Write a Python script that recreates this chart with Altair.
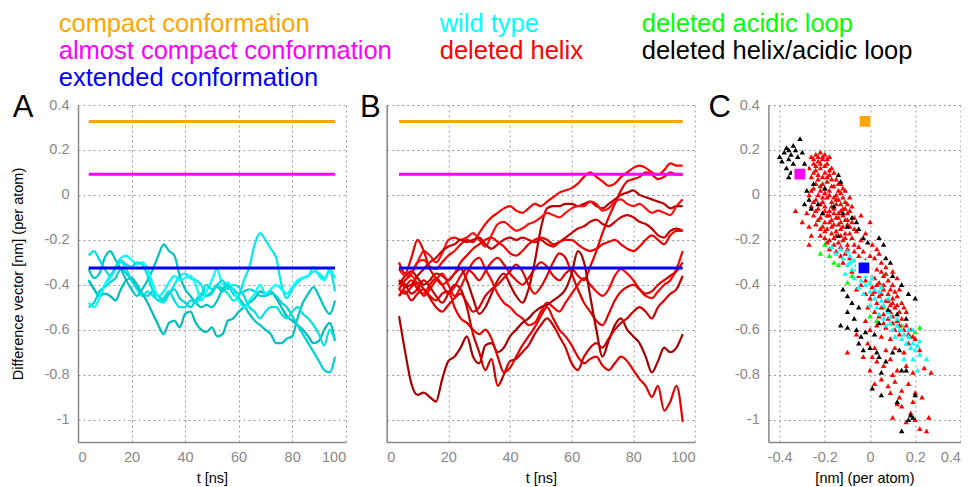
import altair as alt
import pandas as pd

FONT = "Liberation Sans"

# ---------------- data ----------------
T = [4, 6, 8, 10, 12, 14, 16, 18, 20, 22, 24, 26, 28, 30, 32, 34, 36, 38, 40, 42,
     44, 46, 48, 50, 52, 54, 56, 58, 60, 62, 64, 66, 68, 70, 72, 74, 76, 78, 80, 82,
     84, 86, 88, 90, 92, 94, 96]

REF_NAMES = ["compact conformation", "almost compact conformation", "extended conformation"]
REF_VALUES = [0.327, 0.092, -0.325]
REF_COLORS = ["#ffa500", "#ff00ff", "#0000ff"]
REF_T = [4, 96]

# wild type trajectories (panel A)
A_NAMES = ["wt1", "wt2", "wt3", "wt4", "wt5", "wt6"]
A_COLORS = ["#00eaea", "#00c4c4", "#00bcbc", "#00d4d4", "#00ffff", "#00e2e2"]
WT1 = [-0.38, -0.42, -0.45, -0.4, -0.36, -0.33, -0.3, -0.33, -0.38, -0.42, -0.45, -0.43, -0.45, -0.47, -0.48, -0.44,
       -0.4, -0.36, -0.35, -0.37, -0.38, -0.4, -0.45, -0.44, -0.4, -0.42, -0.44, -0.47, -0.45, -0.38, -0.32, -0.22,
       -0.17, -0.2, -0.24, -0.28, -0.4, -0.46, -0.42, -0.39, -0.37, -0.36, -0.34, -0.35, -0.37, -0.34, -0.43]
WT2 = [-0.33, -0.37, -0.35, -0.28, -0.25, -0.29, -0.33, -0.38, -0.42, -0.45, -0.42, -0.38, -0.33, -0.27, -0.22, -0.25,
       -0.27, -0.36, -0.42, -0.45, -0.48, -0.5, -0.49, -0.5, -0.47, -0.42, -0.4, -0.44, -0.46, -0.49, -0.53, -0.56,
       -0.58, -0.6, -0.62, -0.66, -0.66, -0.64, -0.63, -0.55, -0.48, -0.44, -0.41, -0.45, -0.5, -0.53, -0.47]
WT3 = [-0.38, -0.42, -0.45, -0.44, -0.45, -0.47, -0.42, -0.38, -0.37, -0.4, -0.44, -0.48, -0.53, -0.58, -0.62, -0.57,
       -0.56, -0.59, -0.53, -0.52, -0.57, -0.6, -0.61, -0.59, -0.63, -0.62, -0.56, -0.55, -0.52, -0.5, -0.48, -0.46,
       -0.43, -0.44, -0.43, -0.46, -0.5, -0.54, -0.56, -0.58, -0.6, -0.63, -0.66, -0.65, -0.6, -0.57, -0.65]
WT4 = [-0.5, -0.48, -0.43, -0.41, -0.39, -0.37, -0.33, -0.35, -0.38, -0.41, -0.44, -0.45, -0.43, -0.45, -0.47, -0.44,
       -0.42, -0.46, -0.48, -0.5, -0.47, -0.44, -0.45, -0.43, -0.41, -0.43, -0.41, -0.42, -0.44, -0.43, -0.42, -0.43,
       -0.45, -0.45, -0.44, -0.45, -0.48, -0.5, -0.54, -0.58, -0.62, -0.66, -0.7, -0.74, -0.78, -0.79, -0.72]
WT5 = [-0.48, -0.5, -0.46, -0.4, -0.37, -0.33, -0.28, -0.27, -0.29, -0.31, -0.3, -0.33, -0.4, -0.45, -0.43, -0.39,
       -0.36, -0.38, -0.37, -0.36, -0.4, -0.47, -0.43, -0.38, -0.33, -0.4, -0.39, -0.43, -0.47, -0.5, -0.47, -0.44,
       -0.4, -0.44, -0.42, -0.4, -0.42, -0.44, -0.41, -0.38, -0.37, -0.36, -0.32, -0.36, -0.38, -0.33, -0.37]
WT6 = [-0.27, -0.25, -0.29, -0.33, -0.36, -0.32, -0.29, -0.31, -0.32, -0.3, -0.31, -0.36, -0.43, -0.47, -0.46, -0.43,
       -0.47, -0.5, -0.5, -0.47, -0.48, -0.45, -0.4, -0.42, -0.4, -0.38, -0.42, -0.4, -0.41, -0.45, -0.5, -0.52,
       -0.55, -0.52, -0.5, -0.5, -0.53, -0.55, -0.52, -0.5, -0.53, -0.55, -0.58, -0.62, -0.67, -0.6, -0.65]
A_SERIES = [WT1, WT2, WT3, WT4, WT5, WT6]

# deleted helix trajectories (panel B)
B_NAMES = ["dh1", "dh2", "dh3", "dh4", "dh5", "dh6", "dh7", "dh8", "dh9", "dh10", "dh11"]
B_COLORS = ["#ff0000", "#e80000", "#b40000", "#ff1010", "#c80000", "#f00000",
            "#ff0000", "#e00000", "#a80000", "#e60000", "#d00000"]
DH1 = [-0.42, -0.38, -0.35, -0.3, -0.29, -0.32, -0.33, -0.3, -0.27, -0.25, -0.22, -0.2, -0.21, -0.17, -0.13, -0.1,
       -0.08, -0.06, -0.05, -0.07, -0.08, -0.06, -0.04, -0.05, -0.03, -0.01, 0.01, 0.02, 0.03, 0.05, 0.08, 0.1,
       0.08, 0.06, 0.04, 0.05, 0.08, 0.1, 0.12, 0.13, 0.12, 0.1, 0.09, 0.11, 0.14, 0.13, 0.13]
DH2 = [-0.45, -0.41, -0.38, -0.42, -0.44, -0.4, -0.37, -0.4, -0.44, -0.41, -0.36, -0.33, -0.35, -0.38, -0.34, -0.3,
       -0.28, -0.31, -0.35, -0.38, -0.4, -0.37, -0.33, -0.3, -0.32, -0.36, -0.38, -0.35, -0.33, -0.36, -0.38, -0.32,
       -0.25, -0.17, -0.1, -0.04, 0.02, 0.06, 0.07, 0.08, 0.1, 0.09, 0.07, 0.08, 0.1, 0.09, 0.09]
DH3 = [-0.4, -0.36, -0.34, -0.37, -0.4, -0.38, -0.35, -0.36, -0.38, -0.35, -0.33, -0.38, -0.46, -0.53, -0.5, -0.44,
       -0.38, -0.35, -0.4, -0.45, -0.48, -0.42, -0.3, -0.15, -0.06, -0.05, -0.05, -0.04, -0.04, -0.05, -0.04, -0.03,
       -0.05, -0.06, -0.04, -0.02, 0.0, 0.01, 0.02, 0.0, -0.01, -0.02, -0.03, -0.04, -0.06, -0.05, -0.05]
DH4 = [-0.33, -0.36, -0.35, -0.3, -0.25, -0.27, -0.3, -0.26, -0.2, -0.19, -0.2, -0.19, -0.17, -0.2, -0.23, -0.18,
       -0.13, -0.12, -0.14, -0.16, -0.15, -0.13, -0.12, -0.1, -0.08, -0.09, -0.1, -0.08, -0.06, -0.05, -0.05, -0.03,
       -0.04, -0.07, -0.06, -0.03, -0.02, -0.04, -0.05, -0.04, -0.06, -0.08, -0.07, -0.08, -0.09, -0.05, -0.02]
DH5 = [-0.38, -0.41, -0.4, -0.36, -0.33, -0.3, -0.28, -0.25, -0.23, -0.22, -0.2, -0.21, -0.2, -0.19, -0.22, -0.24,
       -0.22, -0.2, -0.19, -0.2, -0.19, -0.2, -0.21, -0.2, -0.22, -0.23, -0.21, -0.19, -0.17, -0.15, -0.14, -0.12,
       -0.11, -0.13, -0.14, -0.12, -0.1, -0.09, -0.1, -0.12, -0.13, -0.15, -0.18, -0.19, -0.16, -0.15, -0.16]
DH6 = [-0.3, -0.35, -0.28, -0.2, -0.25, -0.33, -0.37, -0.4, -0.38, -0.35, -0.3, -0.27, -0.24, -0.22, -0.2, -0.19,
       -0.21, -0.23, -0.26, -0.27, -0.25, -0.22, -0.2, -0.19, -0.2, -0.22, -0.21, -0.2, -0.2, -0.22, -0.24, -0.25,
       -0.24, -0.22, -0.21, -0.2, -0.22, -0.24, -0.25, -0.23, -0.2, -0.18, -0.2, -0.22, -0.18, -0.16, -0.16]
DH7 = [-0.42, -0.38, -0.36, -0.4, -0.45, -0.42, -0.38, -0.35, -0.4, -0.45, -0.41, -0.35, -0.3, -0.28, -0.33, -0.38,
       -0.44, -0.48, -0.5, -0.53, -0.55, -0.58, -0.57, -0.52, -0.48, -0.5, -0.52, -0.48, -0.44, -0.4, -0.37, -0.4,
       -0.43, -0.45, -0.42, -0.36, -0.33, -0.35, -0.38, -0.42, -0.45, -0.46, -0.43, -0.4, -0.38, -0.33, -0.25]
DH8 = [-0.45, -0.43, -0.47, -0.44, -0.42, -0.46, -0.5, -0.52, -0.49, -0.46, -0.44, -0.48, -0.52, -0.5, -0.45, -0.42,
       -0.4, -0.37, -0.34, -0.31, -0.34, -0.4, -0.44, -0.41, -0.36, -0.3, -0.26, -0.28, -0.35, -0.42, -0.48, -0.52,
       -0.56, -0.58, -0.53, -0.47, -0.43, -0.41, -0.4, -0.42, -0.44, -0.43, -0.4, -0.38, -0.36, -0.34, -0.3]
DH9 = [-0.54, -0.7, -0.84, -0.89, -0.88, -0.9, -0.92, -0.82, -0.74, -0.72, -0.68, -0.63, -0.72, -0.75, -0.67, -0.66,
       -0.7, -0.68, -0.63, -0.6, -0.57, -0.55, -0.52, -0.5, -0.49, -0.47, -0.45, -0.42, -0.35, -0.25, -0.3, -0.45,
       -0.6, -0.72, -0.65, -0.58, -0.55, -0.6, -0.63, -0.66, -0.72, -0.79, -0.74, -0.68, -0.7, -0.68, -0.62]
DH10 = [-0.42, -0.44, -0.41, -0.39, -0.42, -0.45, -0.47, -0.44, -0.43, -0.5, -0.55, -0.57, -0.6, -0.62, -0.6, -0.64,
        -0.72, -0.79, -0.77, -0.72, -0.67, -0.63, -0.59, -0.54, -0.5, -0.55, -0.6, -0.63, -0.67, -0.72, -0.75, -0.73,
        -0.72, -0.76, -0.78, -0.75, -0.72, -0.74, -0.78, -0.82, -0.85, -0.9, -0.85, -0.96, -0.92, -0.85, -1.01]
DH11 = [-0.38, -0.4, -0.44, -0.42, -0.38, -0.41, -0.45, -0.48, -0.44, -0.4, -0.42, -0.5, -0.62, -0.7, -0.78, -0.73,
        -0.85, -0.8, -0.74, -0.73, -0.7, -0.67, -0.62, -0.58, -0.55, -0.58, -0.63, -0.68, -0.75, -0.78, -0.72, -0.68,
        -0.66, -0.68, -0.64, -0.6, -0.57, -0.55, -0.52, -0.5, -0.52, -0.55, -0.5, -0.47, -0.44, -0.42, -0.36]
B_SERIES = [DH1, DH2, DH3, DH4, DH5, DH6, DH7, DH8, DH9, DH10, DH11]

# panel C: projections (x, y)
RED_PTS = [
    (-0.26, 0.17), (-0.24, 0.18), (-0.22, 0.19), (-0.2, 0.18), (-0.18, 0.17), (-0.25, 0.14), (-0.23, 0.15),
    (-0.21, 0.16), (-0.19, 0.14), (-0.17, 0.12), (-0.27, 0.12), (-0.24, 0.11), (-0.22, 0.12), (-0.2, 0.1),
    (-0.18, 0.09), (-0.15, 0.07), (-0.13, 0.05), (-0.26, 0.08), (-0.23, 0.07), (-0.21, 0.05), (-0.19, 0.06),
    (-0.16, 0.04), (-0.25, 0.03), (-0.22, 0.02), (-0.2, 0.01), (-0.18, 0.02), (-0.15, 0.0), (-0.13, 0.01),
    (-0.11, 0.02), (-0.27, 0.0), (-0.24, -0.02), (-0.21, -0.03), (-0.19, -0.01), (-0.17, -0.03), (-0.15, -0.02),
    (-0.13, -0.04), (-0.11, -0.03), (-0.09, -0.01), (-0.26, -0.05), (-0.23, -0.06), (-0.2, -0.05), (-0.18, -0.07),
    (-0.16, -0.06), (-0.14, -0.08), (-0.12, -0.06), (-0.1, -0.08), (-0.08, -0.05), (-0.28, -0.08), (-0.25, -0.09),
    (-0.22, -0.1), (-0.19, -0.09), (-0.17, -0.11), (-0.15, -0.1), (-0.13, -0.12), (-0.11, -0.11), (-0.07, -0.1),
    (-0.33, -0.07), (-0.3, -0.12), (-0.27, -0.14), (-0.24, -0.13), (-0.21, -0.14), (-0.19, -0.15), (-0.17, -0.14),
    (-0.15, -0.16), (-0.13, -0.15), (-0.11, -0.17), (-0.09, -0.14), (-0.06, -0.16), (-0.26, -0.18), (-0.22, -0.18),
    (-0.2, -0.19), (-0.18, -0.2), (-0.16, -0.19), (-0.14, -0.21), (-0.12, -0.2), (-0.1, -0.22), (-0.08, -0.19),
    (-0.04, -0.2), (-0.27, -0.22), (-0.02, -0.17), (0.01, -0.22), (0.03, -0.24), (0.0, -0.12), (-0.04, -0.09),
    (-0.18, -0.24), (-0.15, -0.25), (-0.13, -0.27), (-0.11, -0.26), (-0.09, -0.28), (-0.07, -0.25), (-0.05, -0.27),
    (-0.02, -0.29), (0.02, -0.28), (0.05, -0.3), (-0.12, -0.3), (0.07, -0.32), (0.1, -0.34), (0.04, -0.26),
    (-0.08, -0.34), (-0.05, -0.36), (-0.02, -0.38), (0.0, -0.35), (0.02, -0.37), (0.04, -0.39), (0.06, -0.36),
    (0.08, -0.38), (0.1, -0.4), (-0.04, -0.4), (0.01, -0.41), (0.12, -0.37), (0.13, -0.42), (-0.06, -0.42),
    (-0.02, -0.44), (0.0, -0.46), (0.02, -0.43), (0.04, -0.45), (0.06, -0.42), (0.08, -0.44), (0.1, -0.46),
    (0.12, -0.45), (0.03, -0.48), (0.05, -0.5), (0.07, -0.47), (0.09, -0.49), (0.11, -0.5), (0.14, -0.48),
    (-0.01, -0.5), (0.16, -0.52), (0.02, -0.52), (0.04, -0.54), (0.06, -0.53), (0.08, -0.55), (0.1, -0.54),
    (0.12, -0.56), (0.14, -0.55), (0.16, -0.58), (0.03, -0.58), (0.07, -0.59), (0.11, -0.6), (0.18, -0.6),
    (-0.02, -0.56), (0.0, -0.6), (0.05, -0.63), (0.09, -0.64), (0.13, -0.62), (0.17, -0.66), (0.2, -0.64),
    (-0.01, -0.66), (0.02, -0.68), (0.07, -0.69), (0.11, -0.68), (0.15, -0.7), (-0.06, -0.62), (-0.1, -0.7),
    (0.22, -0.69), (0.01, -0.72), (-0.03, -0.72), (0.03, -0.74), (0.06, -0.76), (0.09, -0.73), (0.12, -0.78),
    (0.16, -0.76), (0.19, -0.79), (0.24, -0.77), (0.0, -0.78), (0.1, -0.8), (0.27, -0.79), (0.05, -0.82),
    (0.08, -0.85), (0.11, -0.83), (0.14, -0.87), (0.17, -0.84), (0.2, -0.88), (0.13, -0.9), (0.09, -0.88),
    (0.23, -0.9), (0.02, -0.84), (0.1, -0.99), (0.14, -0.94), (0.18, -0.97), (0.2, -1.0), (0.22, -1.04),
    (0.25, -1.05), (0.26, -0.99), (0.16, -1.01), (0.12, -0.93), (0.19, -0.92),
    (-0.25, 0.16), (-0.23, 0.17), (-0.21, 0.17), (-0.19, 0.16), (-0.24, 0.13), (-0.22, 0.14), (-0.2, 0.13),
    (-0.18, 0.11), (-0.16, 0.1), (-0.25, 0.1), (-0.23, 0.09), (-0.21, 0.08), (-0.19, 0.08), (-0.17, 0.07),
    (-0.14, 0.05), (-0.24, 0.05), (-0.22, 0.04), (-0.2, 0.03), (-0.17, 0.04), (-0.14, 0.02), (-0.12, 0.03),
    (-0.26, 0.02), (-0.23, 0.0), (-0.21, -0.01), (-0.18, 0.0), (-0.16, -0.01), (-0.14, -0.02), (-0.12, -0.01),
    (-0.1, -0.04), (-0.25, -0.03), (-0.22, -0.04), (-0.2, -0.07), (-0.17, -0.05), (-0.15, -0.04), (-0.13, -0.07),
    (-0.11, -0.06), (-0.09, -0.07), (-0.24, -0.07), (-0.21, -0.08), (-0.18, -0.09), (-0.16, -0.08), (-0.14, -0.1),
    (-0.12, -0.09), (-0.1, -0.11), (-0.08, -0.12), (-0.23, -0.11), (-0.2, -0.12), (-0.18, -0.12), (-0.16, -0.13),
    (-0.14, -0.13), (-0.12, -0.14), (-0.1, -0.13), (-0.07, -0.15), (-0.22, -0.15), (-0.2, -0.16), (-0.17, -0.17),
    (-0.15, -0.18), (-0.13, -0.18), (-0.11, -0.19), (-0.09, -0.17), (-0.19, -0.21), (-0.16, -0.22), (-0.13, -0.23),
    (-0.1, -0.24), (-0.07, -0.22), (-0.05, -0.23), (-0.03, -0.25), (0.0, -0.27), (-0.03, -0.31), (0.0, -0.32),
    (0.03, -0.33), (0.05, -0.34), (0.07, -0.35), (0.03, -0.4), (0.06, -0.4), (0.09, -0.42), (0.11, -0.43),
    (0.01, -0.44), (0.05, -0.44), (0.08, -0.47), (0.1, -0.48), (0.12, -0.49), (0.13, -0.52), (0.15, -0.5),
    (0.09, -0.52), (0.06, -0.57), (0.1, -0.57), (0.13, -0.58), (0.15, -0.6), (0.17, -0.62), (0.19, -0.63),
]
BLACK_PTS = [
    (-0.4, 0.17), (-0.38, 0.19), (-0.36, 0.2), (-0.35, 0.18), (-0.37, 0.21), (-0.34, 0.22), (-0.33, 0.2),
    (-0.32, 0.17), (-0.31, 0.25), (-0.39, 0.15), (-0.36, 0.16), (-0.34, 0.14), (-0.33, 0.12), (-0.35, 0.1),
    (-0.37, 0.12), (-0.3, 0.19), (-0.29, 0.14), (-0.32, 0.07), (-0.36, 0.08), (-0.28, 0.02), (-0.27, -0.02),
    (-0.26, -0.06), (-0.25, 0.05), (-0.29, -0.04), (-0.14, 0.09), (-0.13, 0.06), (-0.2, 0.03), (-0.16, -0.05),
    (-0.12, -0.08), (-0.08, -0.1), (-0.06, -0.12), (-0.05, -0.15), (-0.03, -0.19), (-0.01, -0.21), (0.04, -0.19),
    (0.06, -0.22), (0.09, -0.3), (0.07, -0.28), (-0.1, -0.14), (-0.14, -0.18), (-0.21, -0.08), (-0.23, -0.04),
    (0.1, -0.36), (0.14, -0.4), (0.17, -0.44), (0.2, -0.46), (0.16, -0.55), (0.12, -0.53), (0.08, -0.51),
    (0.04, -0.57), (0.02, -0.62), (-0.1, -0.45), (-0.08, -0.48), (-0.12, -0.42), (-0.1, -0.52), (-0.07, -0.55),
    (-0.05, -0.5), (-0.13, -0.58), (-0.1, -0.59), (-0.06, -0.6), (-0.04, -0.63), (-0.05, -0.66), (-0.03, -0.69),
    (-0.02, -0.61), (0.0, -0.68), (0.03, -0.7), (0.04, -0.72), (0.05, -0.79), (0.07, -0.74), (0.1, -0.7),
    (0.13, -0.69), (0.14, -0.78), (0.16, -0.78), (0.01, -0.86), (0.05, -0.89), (0.12, -0.92), (0.18, -0.98),
    (0.19, -0.99), (0.2, -0.89), (0.14, -1.05), (0.17, -1.0),
]
CYAN_PTS = [
    (-0.17, -0.23), (-0.15, -0.26), (-0.13, -0.24), (-0.12, -0.28), (-0.1, -0.25), (-0.09, -0.3), (-0.07, -0.29),
    (-0.08, -0.33), (-0.06, -0.31), (-0.05, -0.35), (-0.07, -0.37), (-0.04, -0.38), (-0.03, -0.34), (-0.02, -0.4),
    (-0.05, -0.41), (0.0, -0.43), (-0.03, -0.44), (0.02, -0.46), (0.0, -0.49), (0.03, -0.5), (0.05, -0.47),
    (0.04, -0.53), (0.06, -0.55), (0.08, -0.52), (0.07, -0.58), (0.09, -0.57), (0.1, -0.6), (0.12, -0.58),
    (0.11, -0.63), (0.13, -0.6), (0.14, -0.64), (0.15, -0.62), (0.16, -0.66), (0.17, -0.63), (0.18, -0.68),
    (0.19, -0.66), (0.2, -0.69), (0.21, -0.67), (0.22, -0.65), (0.15, -0.73), (0.19, -0.73), (0.25, -0.73),
    (0.21, -0.78), (0.22, -0.71), (-0.11, -0.35), (-0.09, -0.27), (0.01, -0.37), (0.05, -0.41), (0.08, -0.46),
    (-0.01, -0.31), (-0.06, -0.33), (-0.04, -0.32), (-0.02, -0.36), (0.0, -0.39), (0.02, -0.42), (0.04, -0.43),
    (-0.08, -0.29), (-0.1, -0.31), (0.06, -0.49), (0.09, -0.54), (0.12, -0.55), (0.14, -0.6), (0.17, -0.6),
    (0.19, -0.6),
]
GREEN_PTS = [
    (-0.22, -0.26), (-0.2, -0.22), (-0.18, -0.27), (-0.16, -0.3), (-0.14, -0.31), (-0.1, -0.39), (-0.08, -0.36),
    (0.0, -0.54), (0.03, -0.56), (0.1, -0.57), (0.14, -0.58), (0.18, -0.63), (0.22, -0.59), (0.2, -0.61),
    (-0.03, -0.3), (0.06, -0.5),
]
# reference conformations in panel C
REF_PROJ_X = [-0.022, -0.311, -0.027]
REF_PROJ_Y = [0.327, 0.092, -0.325]

GROUP_NAMES = ["wild type", "deleted helix", "deleted acidic loop", "deleted helix/acidic loop"]
GROUP_COLORS = ["#00ffff", "#ff0000", "#00ff00", "#000000"]

Y_TICKS = [-1, -0.8, -0.6, -0.4, -0.2, 0, 0.2, 0.4]
T_TICKS = [0, 20, 40, 60, 80, 100]
CX_TICKS = [-0.4, -0.2, 0, 0.2, 0.4]

# ---------------- layout constants ----------------
W_A, W_B_RANGE, W_B, W_C, H = 267.7, 308.3, 340.3, 192.0, 337.0
GAP = 40.7
LABEL_EXPR = "toString(round(datum.value*10)/10)"
LEGEND_FS = 25.5


def trace_df(names, series, key):
    rows = []
    for name, vals in zip(names, series):
        for t, v in zip(T, vals):
            rows.append({key: name, "t": t, "v": v})
    return pd.DataFrame(rows)


y_scale = alt.Scale(domain=[-1.1, 0.4], nice=False, zero=False)
yA = alt.Y("v:Q", scale=y_scale,
           axis=alt.Axis(values=Y_TICKS, labelExpr=LABEL_EXPR, title="Difference vector [nm] (per atom)",
                         titleX=-59.3, titleY=H / 2, titleAngle=270, titleAlign="center",
                         titleBaseline="middle", labelPadding=9))
yB = alt.Y("v:Q", scale=y_scale, axis=alt.Axis(values=Y_TICKS, labels=False, title=None))
xA = alt.X("t:Q", scale=alt.Scale(domain=[0, 100], nice=False),
           axis=alt.Axis(values=T_TICKS, title="t [ns]", titleY=36, titleBaseline="middle", labelPadding=8))
xB = alt.X("t:Q", scale=alt.Scale(domain=[0, 100], nice=False, range=[0, W_B_RANGE]),
           axis=alt.Axis(values=T_TICKS, title="t [ns]", titleY=36, titleBaseline="middle", labelPadding=8))


def ref_layers(x_enc, y_enc):
    layers = []
    for name, val, col in zip(REF_NAMES, REF_VALUES, REF_COLORS):
        df = pd.DataFrame({"t": REF_T, "v": [val, val]})
        layers.append(alt.Chart(df).mark_line(strokeWidth=3, color=col).encode(x=x_enc, y=y_enc))
    return layers


def text_layer(label, color, x, y, size, align="left"):
    return alt.Chart(pd.DataFrame({"label": [label]})).mark_text(
        align=align, baseline="alphabetic", font=FONT, fontSize=size, color=color
    ).encode(text="label:N", x=alt.value(x), y=alt.value(y))


# ---------------- panel A ----------------
a_df = trace_df(A_NAMES, A_SERIES, "wt")
a_traces = alt.Chart(a_df).mark_line(interpolate="monotone", strokeWidth=2.2).encode(
    x=xA, y=yA,
    color=alt.Color("wt:N", scale=alt.Scale(domain=A_NAMES, range=A_COLORS), legend=None))

legend_layers = []
col_x = [-19.3, 361.7, 563.7]
row_y = [-73, -46, -19]
for i, (n, c) in enumerate(zip(REF_NAMES, REF_COLORS)):
    legend_layers.append(text_layer(n, c, col_x[0], row_y[i], LEGEND_FS))
legend_layers.append(text_layer(GROUP_NAMES[0], GROUP_COLORS[0], col_x[1], row_y[0], LEGEND_FS))
legend_layers.append(text_layer(GROUP_NAMES[1], GROUP_COLORS[1], col_x[1], row_y[1], LEGEND_FS))
legend_layers.append(text_layer(GROUP_NAMES[2], GROUP_COLORS[2], col_x[2], row_y[0], LEGEND_FS))
legend_layers.append(text_layer(GROUP_NAMES[3], GROUP_COLORS[3], col_x[2], row_y[1], LEGEND_FS))

panelA = alt.layer(a_traces, *ref_layers(xA, yA), text_layer("A", "black", -65.3, 12, 31),
                   *legend_layers).properties(width=W_A, height=H)

# ---------------- panel B ----------------
b_df = trace_df(B_NAMES, B_SERIES, "dh")
b_traces = alt.Chart(b_df).mark_line(interpolate="monotone", strokeWidth=2.2).encode(
    x=xB, y=yB,
    color=alt.Color("dh:N", scale=alt.Scale(domain=B_NAMES, range=B_COLORS), legend=None))
panelB = alt.layer(b_traces, *ref_layers(xB, yB), text_layer("B", "black", -26.7, 12, 31)).properties(
    width=W_B, height=H)

# ---------------- panel C ----------------
xC = alt.X("px:Q", scale=alt.Scale(domain=[-0.45, 0.4], nice=False, zero=False),
           axis=alt.Axis(values=CX_TICKS, labelExpr=LABEL_EXPR, title="[nm] (per atom)", titleY=36,
                         titleBaseline="middle", labelPadding=8))
yC = alt.Y("py:Q", scale=y_scale,
           axis=alt.Axis(values=Y_TICKS, labelExpr=LABEL_EXPR, title=None, labelPadding=9))


def pts_layer(pts, color):
    df = pd.DataFrame(pts, columns=["px", "py"])
    return alt.Chart(df).mark_point(shape="triangle-up", filled=True, size=30, opacity=1, color=color).encode(
        x=xC, y=yC)


sq_df = pd.DataFrame({"ref": REF_NAMES, "px": REF_PROJ_X, "py": REF_PROJ_Y})
squares = alt.Chart(sq_df).mark_square(size=175, opacity=1, stroke="white", strokeWidth=2.5, filled=True).encode(
    x=xC, y=yC,
    color=alt.Color("ref:N", scale=alt.Scale(domain=REF_NAMES, range=REF_COLORS), legend=None))

panelC = alt.layer(
    pts_layer(GREEN_PTS, GROUP_COLORS[2]),
    pts_layer(RED_PTS, GROUP_COLORS[1]),
    pts_layer(CYAN_PTS, GROUP_COLORS[0]),
    pts_layer(BLACK_PTS, GROUP_COLORS[3]),
    squares,
    text_layer("C", "black", -60, 12, 31),
).properties(width=W_C, height=H)

chart = alt.hconcat(panelA, panelB, panelC, spacing=GAP, bounds="flush").resolve_scale(
    color="independent"
).configure_view(stroke=None).configure_axis(
    grid=True, gridColor="#9a9a9a", gridDash=[2, 3], gridWidth=1,
    domainColor="#888888", domainWidth=1.5, ticks=False, tickSize=0,
    labelColor="#888888", labelFont=FONT, labelFontSize=14.5,
    titleFont=FONT, titleFontSize=14.5, titleFontWeight="normal", titleColor="black",
).properties(padding={"left": 2, "top": 4, "right": 0, "bottom": 5})

chart.save("out.html", embed_options={"renderer": "svg", "actions": False})
